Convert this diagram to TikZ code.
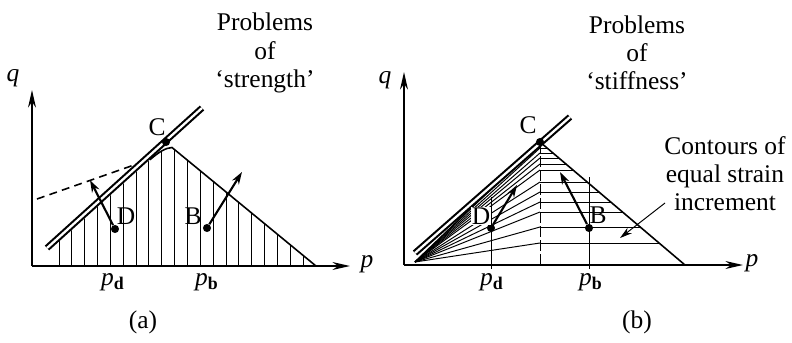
\documentclass[tikz,border=0pt]{standalone}
\usepackage{fontspec}
\setmainfont{Liberation Serif}
\usetikzlibrary{arrows.meta}
\tikzset{
  axis/.style={line width=1.1pt,-{Stealth[length=10pt,width=4.5pt]}},
  envelope/.style={double,line width=1.2pt,double distance=1.3pt},
  locus/.style={line width=0.9pt},
  hatch/.style={line width=0.55pt},
  pathArrow/.style={line width=1.2pt,-{Stealth[length=7pt,width=4.5pt]}},
  dot/.style={circle,fill,inner sep=0pt,minimum size=4.6pt},
  lbl/.style={font=\fontsize{14.5}{16}\selectfont,inner sep=0pt},
}
\newcommand{\psub}[1]{\textit{p}\textsubscript{\textbf{#1}}}

\begin{document}
\begin{tikzpicture}[x=0.02cm,y=-0.02cm]
  \useasboundingbox (0,0) rectangle (792,342);

  % ---- (a) Problems of strength ---------------------------------
  % Axes
  \coordinate (Oa) at (32,266);
  \coordinate (qaTip) at (32,90);
  \coordinate (paTip) at (350,266);
  \draw[axis] (Oa) -- (qaTip);
  \draw[axis] (Oa) -- (paTip);
  \node[lbl] (qa) at (13,78) {\textit{q}};
  \node[lbl] (pa) at (367,264) {\textit{p}};

  % Hatched region under the locus
  \begin{scope}
    \clip (32,266) -- (150,159.7) .. controls (160,151) and (166,148) .. (172,147.5)
      -- (316,266) -- cycle;
    \foreach \x in {59,71.85,...,304}
      \draw[hatch] (\x,266) -- (\x,100);
  \end{scope}

  % Yield locus
  \coordinate (Pa) at (172,147.5);
  \coordinate (Ra) at (316,266);
  \draw[locus] (150,159.7) .. controls (160,151) and (166,148) .. (Pa) -- (Ra);
  \draw[locus,dash pattern=on 4.5pt off 3pt] (37,199) -- (134,165);

  % Strength envelope
  \draw[envelope] (47,248) -- (202,108);
  \node[dot] (Ca) at (166,142) {};
  \node[lbl] (CaL) at (157,127) {C};

  % Points and stress paths
  \node[dot] (Da) at (115,229) {};
  \coordinate (DaTip) at (90,180);
  \draw[pathArrow] (Da) -- (DaTip);
  \node[lbl] (DaL) at (126,216) {D};
  \node[dot] (Ba) at (207,228) {};
  \coordinate (BaTip) at (242,172);
  \draw[pathArrow] (Ba) -- (BaTip);
  \node[lbl] (BaL) at (193,216) {B};

  \node[lbl] (pda) at (113,282) {\psub{d}};
  \node[lbl] (pba) at (207,282) {\psub{b}};
  \node[lbl,align=center] (tita) at (265,53) {Problems\\of\\`strength'};
  \node[lbl] (capa) at (143,322) {(a)};

  % ---- (b) Problems of stiffness --------------------------------
  % Axes
  \coordinate (Ob) at (404,265);
  \coordinate (qbTip) at (404,72);
  \coordinate (pbTip) at (743,265);
  \draw[axis] (Ob) -- (qbTip);
  \draw[axis] (Ob) -- (pbTip);
  \node[lbl] (qb) at (385,80) {\textit{q}};
  \node[lbl] (pb) at (752,263) {\textit{p}};

  % Triangle and dividing line
  \coordinate (Fb) at (415,262);
  \coordinate (Cb) at (540,142);
  \coordinate (Rb) at (685,265);
  \draw[locus] (Fb) -- (Cb) -- (Rb);
  \draw[hatch,dash pattern=on 6pt off 2pt] (Cb) -- (540,265);

  % Contours: fan on the left, horizontals on the right
  \foreach \y in {148,153,158,164,170,182,192,202,212,227,243} {
    \draw[hatch] (Fb) -- (540,\y);
    \draw[hatch] (540,\y) -- ({540+(\y-142)*145/123},\y);
  }

  % Guides at p_d and p_b
  \draw[hatch] (491,197) -- (491,269);
  \draw[hatch] (589,177) -- (589,269);

  % Strength envelope
  \draw[envelope] (415,253) -- (570,117);
  \node[dot] (Cbd) at (Cb) {};
  \node[lbl] (CbL) at (528,125) {C};

  % Points and stress paths
  \node[dot] (Db) at (491,228) {};
  \coordinate (DbTip) at (517,185);
  \draw[pathArrow] (Db) -- (DbTip);
  \node[lbl,fill=white,inner sep=0.5pt] (DbL) at (481,216) {D};
  \node[dot] (Bb) at (589,228) {};
  \coordinate (BbTip) at (560,172);
  \draw[pathArrow] (Bb) -- (BbTip);
  \node[lbl] (BbL) at (598,215) {B};

  \node[lbl,align=center] (cont) at (725,174) {Contours of\\equal strain\\increment};
  \coordinate (contS) at (665,203);
  \coordinate (contT) at (620,238);
  \draw[hatch,-{Stealth[length=7pt,width=4pt]}] (contS) -- (contT);

  \node[lbl] (pdb) at (492,282) {\psub{d}};
  \node[lbl] (pbb) at (591,282) {\psub{b}};
  \node[lbl,align=center] (titb) at (637,53) {Problems\\of\\`stiffness'};
  \node[lbl] (capb) at (637,322) {(b)};

\end{tikzpicture}
\end{document}
